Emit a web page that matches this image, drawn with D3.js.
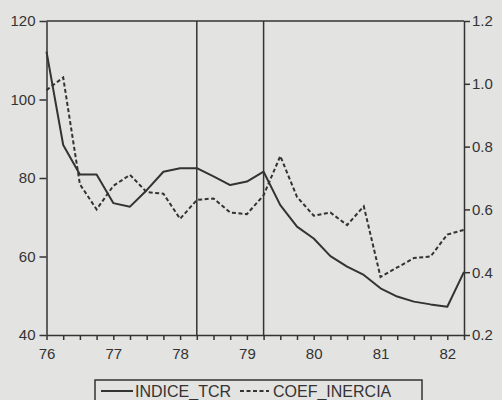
<!DOCTYPE html>
<html>
<head>
<meta charset="utf-8">
<script src="https://cdnjs.cloudflare.com/ajax/libs/d3/7.8.5/d3.min.js"></script>
<style>
    body { margin: 0; background: #e3e3e1; }
    #chart { width: 502px; height: 400px; }
    .axis text { font-family: "Liberation Sans", Arial, sans-serif; font-size: 15px; fill: #333; }
    .axis path, .axis line { stroke: #333; stroke-width: 1.5; }
</style>
</head>
<body>
<div id="chart"></div>
<script>
// quarterly observations, 1976Q1 .. 1982Q2
var quarters = [76.00, 76.25, 76.50, 76.75, 77.00, 77.25, 77.50, 77.75,
                78.00, 78.25, 78.50, 78.75, 79.00, 79.25, 79.50, 79.75,
                80.00, 80.25, 80.50, 80.75, 81.00, 81.25, 81.50, 81.75,
                82.00, 82.25];
var indiceTcr = [112.2, 88.4, 80.9, 80.9, 73.6, 72.7, 76.9, 81.6,
                 82.5, 82.5, 80.4, 78.2, 79.1, 81.6, 73.1, 67.6,
                 64.6, 60.1, 57.4, 55.3, 51.9, 49.8, 48.5, 47.8,
                 47.2, 56.1];
var coefInercia = [0.98, 1.02, 0.68, 0.60, 0.675, 0.71, 0.655, 0.65,
                   0.57, 0.63, 0.635, 0.59, 0.585, 0.645, 0.77, 0.64,
                   0.58, 0.59, 0.55, 0.61, 0.385, 0.415, 0.445, 0.45,
                   0.52, 0.535];
var yearTicks = [76, 77, 78, 79, 80, 81, 82];
var leftTicks = [40, 60, 80, 100, 120];
var rightTicks = [0.2, 0.4, 0.6, 0.8, 1.0, 1.2];
var markerLines = [78.25, 79.25];

var ink = "#333";
var svg = d3.select("#chart").append("svg")
    .attr("width", 502)
    .attr("height", 400);

var margin = {top: 21, right: 38, bottom: 65, left: 46.5};
var width = 502 - margin.left - margin.right;
var height = 400 - margin.top - margin.bottom;

var xScale = d3.scaleLinear().domain([76, 82.25]).range([0, width]);
var yLeft = d3.scaleLinear().domain([40, 120]).range([height, 0]);
var yRight = d3.scaleLinear().domain([0.2, 1.2]).range([height, 0]);

var g = svg.append("g")
    .attr("transform", "translate(" + margin.left + "," + margin.top + ")");

// top frame line
g.append("line")
    .attr("x1", 0).attr("x2", width)
    .attr("y1", 0).attr("y2", 0)
    .style("stroke", ink).style("stroke-width", 1.5);

// vertical marker lines
g.selectAll(".marker")
    .data(markerLines)
    .enter().append("line")
    .attr("class", "marker")
    .attr("x1", function(d) { return xScale(d); })
    .attr("x2", function(d) { return xScale(d); })
    .attr("y1", 0).attr("y2", height)
    .style("stroke", ink).style("stroke-width", 1.5);

var quarterTicks = d3.range(0, 26).map(function(i) { return 76 + i * 0.25; });

var xAxis = d3.axisBottom(xScale)
    .tickValues(quarterTicks)
    .tickSize(5)
    .tickSizeOuter(0)
    .tickFormat(function(d) { return yearTicks.indexOf(d) >= 0 ? String(d) : ""; });

var gx = g.append("g")
    .attr("class", "axis")
    .attr("transform", "translate(0," + height + ")")
    .call(xAxis);
gx.selectAll("text").attr("dy", "1.05em");

var gl = g.append("g")
    .attr("class", "axis")
    .call(d3.axisLeft(yLeft).tickValues(leftTicks).tickSize(7).tickSizeOuter(0));
gl.selectAll("text").attr("x", -11);

var gr = g.append("g")
    .attr("class", "axis")
    .attr("transform", "translate(" + width + ",0)")
    .call(d3.axisRight(yRight).tickValues(rightTicks).tickSize(6).tickSizeOuter(0)
        .tickFormat(d3.format(".1f")));
gr.selectAll("text").attr("x", 8);

var lineTcr = d3.line()
    .x(function(d, i) { return xScale(quarters[i]); })
    .y(function(d) { return yLeft(d); });

var lineCoef = d3.line()
    .x(function(d, i) { return xScale(quarters[i]); })
    .y(function(d) { return yRight(d); });

g.append("path")
    .datum(indiceTcr)
    .attr("fill", "none")
    .attr("stroke", ink)
    .attr("stroke-width", 2)
    .attr("stroke-linejoin", "round")
    .attr("d", lineTcr);

g.append("path")
    .datum(coefInercia)
    .attr("fill", "none")
    .attr("stroke", ink)
    .attr("stroke-width", 2)
    .attr("stroke-dasharray", "4,2.5")
    .attr("d", lineCoef);

// legend
var legend = svg.append("g");
legend.append("rect")
    .attr("x", 95).attr("y", 380)
    .attr("width", 327).attr("height", 40)
    .attr("fill", "none")
    .attr("stroke", ink).attr("stroke-width", 1.5);
legend.append("line")
    .attr("x1", 101).attr("x2", 133)
    .attr("y1", 391).attr("y2", 391)
    .style("stroke", ink).style("stroke-width", 2);
legend.append("text")
    .attr("x", 135).attr("y", 396.5)
    .style("font-family", "'Liberation Sans', Arial, sans-serif")
    .style("font-size", "16px").style("fill", ink)
    .text("INDICE_TCR");
legend.append("line")
    .attr("x1", 240).attr("x2", 269)
    .attr("y1", 391).attr("y2", 391)
    .style("stroke", ink).style("stroke-width", 2)
    .style("stroke-dasharray", "4,2.5");
legend.append("text")
    .attr("x", 273).attr("y", 396.5)
    .style("font-family", "'Liberation Sans', Arial, sans-serif")
    .style("font-size", "16px").style("fill", ink)
    .text("COEF_INERCIA");
</script>
</body>
</html>
